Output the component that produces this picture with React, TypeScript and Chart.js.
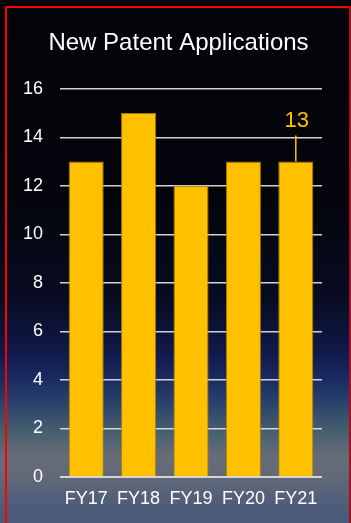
import React, { useEffect, useRef } from "react";
import { Chart, registerables } from "chart.js";

Chart.register(...registerables);

// Fiscal years and the number of new patent applications filed in each
const years = ["FY17", "FY18", "FY19", "FY20", "FY21"];
const applications = [13, 15, 12, 13, 13];
// Bars whose value is called out with a label and leader line
const calloutIndexes = [4];
// Value axis range
const yMin = 0;
const yMax = 16;
const yStep = 2;

const FONT = "'Liberation Sans', Arial, sans-serif";
const BAR_COLOR = "#FFC000";

const calloutPlugin = {
  id: "callout",
  afterDatasetsDraw(chart: any) {
    const { ctx } = chart;
    const meta = chart.getDatasetMeta(0);
    calloutIndexes.forEach((i) => {
      const bar = meta.data[i];
      if (!bar) return;
      const value = applications[i];
      const x = bar.x;
      const top = bar.y;
      ctx.save();
      ctx.strokeStyle = BAR_COLOR;
      ctx.lineWidth = 1.5;
      ctx.beginPath();
      ctx.moveTo(x, top);
      ctx.lineTo(x, top - 26);
      ctx.stroke();
      ctx.fillStyle = BAR_COLOR;
      ctx.font = `22px ${FONT}`;
      ctx.textAlign = "center";
      ctx.textBaseline = "middle";
      ctx.fillText(String(value), x + 1, top - 41);
      ctx.restore();
    });
  },
};

export default function App() {
  const canvasRef = useRef<HTMLCanvasElement | null>(null);

  useEffect(() => {
    if (!canvasRef.current) return;
    const chart = new Chart(canvasRef.current, {
      type: "bar",
      data: {
        labels: years,
        datasets: [
          {
            data: applications,
            backgroundColor: BAR_COLOR,
            borderColor: "rgba(176,132,0,0.9)",
            borderWidth: 1,
            barPercentage: 0.67,
            categoryPercentage: 1,
          },
        ],
      },
      options: {
        animation: false,
        responsive: false,
        maintainAspectRatio: false,
        layout: { padding: { left: 6, right: 0, top: 0, bottom: 0 } },
        plugins: {
          legend: { display: false },
          tooltip: { enabled: false },
          title: {
            display: true,
            text: "New Patent Applications",
            color: "#FFFFFF",
            font: { family: FONT, size: 24, weight: "normal" },
            padding: { top: 29, bottom: 31 },
          },
        },
        scales: {
          x: {
            grid: { display: false, drawTicks: false },
            border: { display: false },
            ticks: {
              color: "#FFFFFF",
              font: { family: FONT, size: 18 },
              padding: 11,
              maxRotation: 0,
              autoSkip: false,
            },
            afterFit(scale: any) {
              scale.height = 46;
            },
          },
          y: {
            min: yMin,
            max: yMax,
            grid: {
              color: "rgba(220,220,220,0.95)",
              lineWidth: (c: any) => (c.tick && c.tick.value === 0 ? 2 : 1.6),
              drawTicks: false,
            },
            border: { display: false },
            ticks: {
              stepSize: yStep,
              color: "#FFFFFF",
              font: { family: FONT, size: 18 },
              padding: 17,
            },
            afterFit(scale: any) {
              scale.width = 54;
            },
          },
          // empty right-hand margin so the plot stays inset while the title spans the full width
          yRight: {
            position: "right",
            min: yMin,
            max: yMax,
            grid: { display: false, drawTicks: false },
            border: { display: false },
            ticks: { display: false },
            afterFit(scale: any) {
              scale.width = 29;
            },
          },
        },
      },
      plugins: [calloutPlugin],
    });
    return () => chart.destroy();
  }, []);

  return (
    <div
      style={{
        position: "absolute",
        left: 0,
        top: 0,
        width: 351,
        height: 523,
        overflow: "hidden",
        background:
          "linear-gradient(to bottom, #030308 0px, #04050c 200px, #080c22 300px, #111a4c 355px, #1a2a60 378px, #283f6a 400px, #486070 433px, #666c77 455px, #636a77 475px, #55617a 495px, #4a5a78 515px, #4a5a7a 523px)",
      }}
    >
      <div
        style={{
          position: "absolute",
          left: 5,
          top: 6,
          width: 342,
          height: 540,
          borderLeft: "2px solid #ff0000",
          borderTop: "2px solid #ff0000",
          borderRight: "2px solid #a01028",
          pointerEvents: "none",
        }}
      />
      <canvas
        ref={canvasRef}
        width={351}
        height={523}
        style={{ position: "absolute", left: 0, top: 0, width: 351, height: 523 }}
      />
    </div>
  );
}
